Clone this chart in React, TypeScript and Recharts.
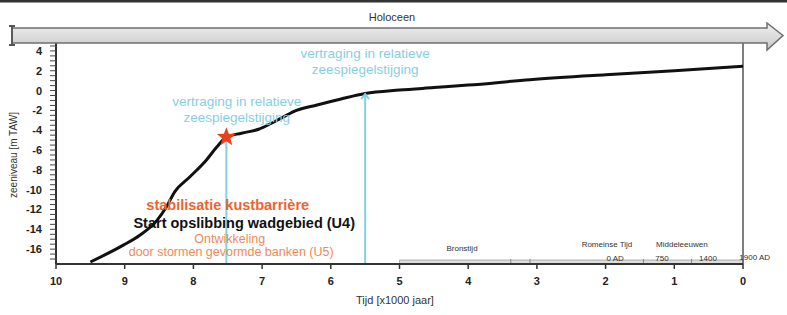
import React from 'react';
import { LineChart, Line, XAxis, YAxis, ReferenceLine, ReferenceDot, ReferenceArea } from 'recharts';

// Sea level curve: time in kyr BP, level in m TAW
const CURVE_T = [9.5, 9.02, 8.78, 8.53, 8.39, 8.27, 8.05, 7.81, 7.66, 7.52, 7.3, 7.05, 6.88, 6.7, 6.5, 6.2, 5.85, 5.5, 5.0, 4.5, 4.0, 3.1, 2.0, 1.0, 0];
const CURVE_Z = [-17.3, -15.6, -14.6, -13.1, -11.7, -10.2, -8.7, -7.0, -5.7, -4.7, -4.3, -3.9, -3.35, -2.7, -2.0, -1.45, -0.85, -0.3, 0.05, 0.3, 0.55, 1.1, 1.6, 2.0, 2.45];

const X_TICKS = [10, 9, 8, 7, 6, 5, 4, 3, 2, 1, 0];
const Y_TICKS = [-17, -16.5, -16, -15.5, -15, -14.5, -14, -13.5, -13, -12.5, -12, -11.5, -11, -10.5, -10, -9.5, -9, -8.5, -8, -7.5, -7, -6.5, -6, -5.5, -5, -4.5, -4, -3.5, -3, -2.5, -2, -1.5, -1, -0.5, 0, 0.5, 1, 1.5, 2, 2.5, 3, 3.5, 4, 4.5];
const Y_DOMAIN = [-17.5, 4.8];

// Vertical "delay" markers
const VLINE_T = [7.52, 5.5];
const VLINE_TOP = [-4.7, -0.35];

// Star marker
const STAR_T = 7.52;
const STAR_Z = -4.7;

// Annotations
const ANNO_T = [7.37, 5.5, 7.5, 7.26, 7.47, 7.45];
const ANNO_Z = [-1.06, 3.79, -11.57, -13.4, -15.0, -16.3];
const ANNO_TEXT = [
  ['vertraging in relatieve', 'zeespiegelstijging'],
  ['vertraging in relatieve', 'zeespiegelstijging'],
  ['stabilisatie kustbarrière'],
  ['Start opslibbing wadgebied (U4)'],
  ['Ontwikkeling'],
  ['door stormen gevormde banken (U5)'],
];
const ANNO_COLOR = ['#86cfe3', '#86cfe3', '#ec6434', '#111111', '#f08a55', '#f08a55'];
const ANNO_SIZE = [13.5, 13.5, 14.5, 14.5, 12.5, 12.5];
const ANNO_WEIGHT = ['normal', 'normal', 'bold', 'bold', 'normal', 'normal'];

// Historical periods strip
const PERIOD_T = [4.09, 1.98, 0.89, 1.86, 1.18, 0.51, -0.17];
const PERIOD_Z = [-15.9, -15.5, -15.5, -16.9, -16.9, -16.9, -16.8];
const PERIOD_TEXT = ['Bronstijd', 'Romeinse Tijd', 'Middeleeuwen', '0 AD', '750', '1400', '1900 AD'];
const STRIP_T = [5, 0];
const STRIP_Z = [-17.5, -17.1];
const STRIP_MARKS = [3.38, 3.1, 1.45, 0.75];

const data = CURVE_T.map((t, i) => ({ t, z: CURVE_Z[i] }));

const FONT = '"Liberation Sans", Arial, sans-serif';

const YTick = (props: any) => {
  const { x, y, payload } = props;
  const v = payload.value;
  if (Math.abs(v % 2) !== 0) return <g />;
  return (
    <text x={x} y={y} textAnchor="end" dominantBaseline="central" fontFamily={FONT} fontSize={11} fontWeight="bold" fill="#222">
      {v}
    </text>
  );
};

const XTick = (props: any) => {
  const { x, y, payload } = props;
  return (
    <text x={x} y={y + 10} textAnchor="middle" dominantBaseline="central" fontFamily={FONT} fontSize={11} fontWeight="bold" fill="#222">
      {payload.value}
    </text>
  );
};

const makeText = (lines: string[], color: string, size: number, weight: string, lh: number) => (p: any) => (
  <text x={p.cx} y={p.cy} textAnchor="middle" dominantBaseline="central" fontFamily={FONT} fontSize={size} fontWeight={weight} fill={color}>
    {lines.map((l, i) => (
      <tspan key={i} x={p.cx} dy={i === 0 ? 0 : lh}>{l}</tspan>
    ))}
  </text>
);

const starShape = (p: any) => {
  const pts: string[] = [];
  for (let i = 0; i < 10; i++) {
    const r = i % 2 === 0 ? 10 : 4.2;
    const a = -Math.PI / 2 + (i * Math.PI) / 5;
    pts.push(`${p.cx + r * Math.cos(a)},${p.cy + r * Math.sin(a)}`);
  }
  return <polygon points={pts.join(' ')} fill="#e9401d" />;
};

const arrowShape = (p: any) => (
  <path d={`M${p.cx - 4},${p.cy + 5} L${p.cx},${p.cy} L${p.cx + 4},${p.cy + 5}`} stroke="#86cfe3" strokeWidth={2} fill="none" />
);

const Overlay = () => (
  <svg width={787} height={315} style={{ position: 'absolute', left: 0, top: 0, pointerEvents: 'none' }}>
    <defs>
      <linearGradient id="barg" x1="0" y1="0" x2="0" y2="1">
        <stop offset="0" stopColor="#f0f0f0" />
        <stop offset="0.5" stopColor="#dcdcdc" />
        <stop offset="1" stopColor="#c8c8c8" />
      </linearGradient>
    </defs>
    <rect x={0} y={0} width={787} height={2.5} fill="#333" />
    <text x={392} y={17} textAnchor="middle" dominantBaseline="central" fontFamily={FONT} fontSize={11} fill="#333">Holoceen</text>
    <path d="M12,28 L767,28 L767,23 L783,35.5 L767,50 L767,43 L12,43 Z" fill="url(#barg)" stroke="#6f6f6f" strokeWidth={1.5} />
    <path d="M9,26 L15,26 M12,26 L12,45 M9,45 L15,45" stroke="#555" strokeWidth={1.8} fill="none" />
    <text x={13} y={155} textAnchor="middle" dominantBaseline="central" fontFamily={FONT} fontSize={10} fill="#333" transform="rotate(-90 13 155)">zeeniveau [m TAW]</text>
    <text x={395} y={300} textAnchor="middle" dominantBaseline="central" fontFamily={FONT} fontSize={11} fill="#333">Tijd [x1000 jaar]</text>
  </svg>
);

export default function App() {
  return (
    <div style={{ position: 'absolute', left: 0, top: 0, width: 787, height: 315, background: '#fff' }}>
      <LineChart width={787} height={315} data={data} margin={{ top: 43, right: 44, bottom: 21, left: 0 }}>
        <XAxis
          type="number"
          dataKey="t"
          domain={[0, 10]}
          reversed
          ticks={X_TICKS}
          interval={0}
          allowDataOverflow
          height={30}
          tickSize={5}
          tick={<XTick />}
          axisLine={{ stroke: '#333', strokeWidth: 2 }}
          tickLine={{ stroke: '#333', strokeWidth: 1.5 }}
        />
        <YAxis
          type="number"
          domain={Y_DOMAIN}
          ticks={Y_TICKS}
          interval={0}
          allowDataOverflow
          width={56}
          tickSize={6}
          tickMargin={8}
          tick={<YTick />}
          axisLine={{ stroke: '#333', strokeWidth: 2 }}
          tickLine={{ stroke: '#444', strokeWidth: 1 }}
        />
        <ReferenceLine x={0} stroke="#555" strokeWidth={1.5} ifOverflow="visible" />
        <ReferenceArea x1={STRIP_T[0]} x2={STRIP_T[1]} y1={STRIP_Z[0]} y2={STRIP_Z[1]} fill="#dddddd" fillOpacity={1} stroke="#a0a0a0" strokeWidth={0.8} ifOverflow="visible" />
        {STRIP_MARKS.map((t, i) => (
          <ReferenceLine key={'sm' + i} segment={[{ x: t, y: -17.6 }, { x: t, y: -17.0 }]} stroke="#888" strokeWidth={1} ifOverflow="visible" />
        ))}
        {VLINE_T.map((t, i) => (
          <ReferenceLine key={'vl' + i} segment={[{ x: t, y: VLINE_TOP[i] }, { x: t, y: Y_DOMAIN[0] }]} stroke="#86cfe3" strokeWidth={2} ifOverflow="visible" />
        ))}
        <ReferenceDot x={VLINE_T[1]} y={VLINE_TOP[1]} r={0} shape={arrowShape} ifOverflow="visible" />
        {ANNO_T.map((t, i) => (
          <ReferenceDot key={'an' + i} x={t} y={ANNO_Z[i]} r={0} ifOverflow="visible"
            shape={makeText(ANNO_TEXT[i], ANNO_COLOR[i], ANNO_SIZE[i], ANNO_WEIGHT[i], 16)} />
        ))}
        {PERIOD_T.map((t, i) => (
          <ReferenceDot key={'pe' + i} x={t} y={PERIOD_Z[i]} r={0} ifOverflow="visible"
            shape={makeText([PERIOD_TEXT[i]], '#333', 8, 'normal', 10)} />
        ))}
        <Line type="monotone" dataKey="z" stroke="#111" strokeWidth={3} dot={false} isAnimationActive={false} />
        <ReferenceDot x={STAR_T} y={STAR_Z} r={0} shape={starShape} ifOverflow="visible" />
      </LineChart>
      <Overlay />
    </div>
  );
}
